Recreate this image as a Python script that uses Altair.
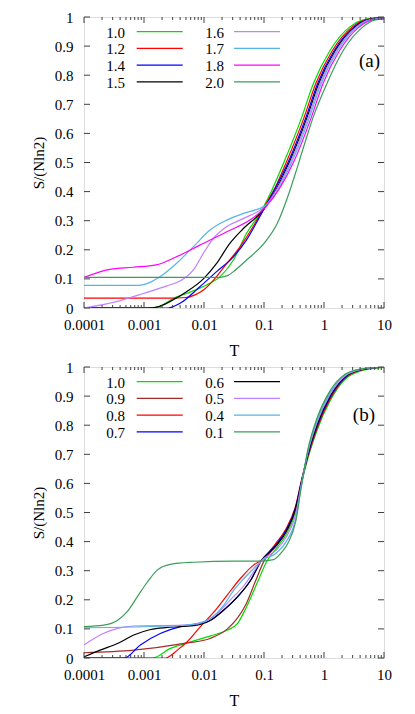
import altair as alt
import pandas as pd

# ---------------- data: panel (a) ----------------
a_labels = ["1.0", "1.2", "1.4", "1.5", "1.6", "1.7", "1.8", "2.0"]
a_colors = ["#00dd00", "#ff0000", "#0000ff", "#000000", "#c080ff", "#56b4e9", "#ff00ff", "#3a9e5a"]

a_logT = {
    "1.0": [-4, -3, -2.8, -2.65, -2.51, -2.29, -1.96, -1.73, -1.51, -1.29, -1.07, -0.95, -0.67, -0.37, -0.18, 0.1, 0.43, 0.65, 1.0],
    "1.2": [-4, -2.6, -2.3, -2.15, -2.01, -1.84, -1.62, -1.4, -1.18, -0.99, -0.8, -0.63, -0.33, -0.14, 0.14, 0.47, 0.69, 1.0],
    "1.4": [-4, -2.6, -2.4, -2.07, -1.79, -1.51, -1.29, -1.07, -0.96, -0.6, -0.3, -0.11, 0.17, 0.5, 0.72, 1.0],
    "1.5": [-4, -2.9, -2.75, -2.57, -2.29, -2.01, -1.79, -1.57, -1.34, -1.0, -0.58, -0.28, -0.09, 0.19, 0.52, 0.74, 1.0],
    "1.6": [-4, -3.46, -3.01, -2.62, -2.37, -2.18, -2.01, -1.84, -1.62, -1.34, -0.96, -0.56, -0.26, -0.07, 0.21, 0.54, 0.76, 1.0],
    "1.7": [-4, -3.1, -2.9, -2.73, -2.46, -2.18, -1.9, -1.62, -1.34, -0.96, -0.54, -0.24, -0.05, 0.23, 0.56, 0.78, 1.0],
    "1.8": [-4, -3.57, -3.18, -2.8, -2.46, -2.07, -1.62, -1.18, -0.96, -0.51, -0.21, -0.02, 0.26, 0.59, 0.81, 1.0],
    "2.0": [-4, -1.75, -1.6, -1.51, -1.29, -1.0, -0.78, -0.6, -0.45, -0.3, -0.18, 0.045, 0.32, 0.65, 0.85, 1.0],
}
a_S = {
    "1.0": [0, 0, 0.002, 0.015, 0.033, 0.05, 0.079, 0.108, 0.165, 0.257, 0.325, 0.37, 0.5, 0.656, 0.77, 0.885, 0.966, 0.99, 1.0],
    "1.2": [0.034, 0.034, 0.036, 0.045, 0.062, 0.096, 0.153, 0.21, 0.28, 0.35, 0.42, 0.5, 0.656, 0.77, 0.885, 0.966, 0.99, 0.999],
    "1.4": [0, 0, 0.016, 0.073, 0.125, 0.176, 0.234, 0.314, 0.355, 0.5, 0.656, 0.77, 0.885, 0.966, 0.99, 0.998],
    "1.5": [0, 0, 0.005, 0.022, 0.056, 0.1, 0.153, 0.222, 0.274, 0.34, 0.5, 0.656, 0.77, 0.885, 0.966, 0.99, 0.997],
    "1.6": [0, 0.022, 0.05, 0.076, 0.096, 0.13, 0.188, 0.24, 0.28, 0.308, 0.355, 0.5, 0.656, 0.77, 0.885, 0.966, 0.99, 0.996],
    "1.7": [0.078, 0.078, 0.088, 0.108, 0.153, 0.21, 0.268, 0.302, 0.325, 0.355, 0.5, 0.656, 0.77, 0.885, 0.966, 0.99, 0.995],
    "1.8": [0.105, 0.133, 0.14, 0.148, 0.176, 0.216, 0.262, 0.31, 0.35, 0.5, 0.656, 0.77, 0.885, 0.966, 0.99, 0.994],
    "2.0": [0.105, 0.105, 0.112, 0.125, 0.165, 0.222, 0.29, 0.385, 0.48, 0.58, 0.656, 0.77, 0.885, 0.966, 0.99, 0.993],
}

# ---------------- data: panel (b) ----------------
b_labels = ["1.0", "0.9", "0.8", "0.7", "0.6", "0.5", "0.4", "0.1"]
b_colors = ["#00dd00", "#a52a2a", "#ff0000", "#0000ff", "#000000", "#c080ff", "#56b4e9", "#3a9e5a"]

b_up = [-0.8, -0.63, -0.47, -0.38, -0.27, -0.12, 0.1, 0.35, 0.6, 1.0]
b_logT = {
    "1.0": [-4, -2.86, -2.56, -2.22, -1.89, -1.61, -1.44, -1.29, -1.07, -0.96] + b_up,
    "0.9": [-4, -3.17, -2.33, -1.89, -1.61, -1.45, -1.3, -1.15, -1.0] + b_up,
    "0.8": [-4, -2.64, -2.44, -2.28, -2.06, -1.83, -1.61, -1.39, -1.17, -1.05] + b_up,
    "0.7": [-4, -3.33, -3.06, -2.72, -2.39, -2.11, -1.89, -1.67, -1.44, -1.22, -1.05] + b_up,
    "0.6": [-4, -3.72, -3.44, -3.17, -2.89, -2.61, -2.17, -1.89, -1.67, -1.44, -1.22, -1.05] + b_up,
    "0.5": [-4, -3.67, -3.44, -3.17, -2.33, -2.0, -1.78, -1.56, -1.33, -1.17, -1.05] + b_up,
    "0.4": [-4, -2.61, -2.17, -1.89, -1.67, -1.5, -1.33, -1.17, -1.05] + b_up,
    "0.1": [-4, -3.67, -3.44, -3.28, -3.11, -2.94, -2.78, -2.56, -2.17, -1.5, -1.05, -0.84, -0.72, -0.6,
            -0.47, -0.38, -0.27, -0.12, 0.1, 0.35, 0.6, 1.0],
}
b_S = {
    "1.0": [0, 0, 0.033, 0.056, 0.076, 0.096, 0.119, 0.176, 0.279, 0.33,
            0.375, 0.425, 0.505, 0.595, 0.685, 0.78, 0.883, 0.958, 0.986, 0.999],
    "0.9": [0.018, 0.027, 0.05, 0.068, 0.1, 0.135, 0.185, 0.26, 0.333,
            0.385, 0.435, 0.515, 0.6, 0.69, 0.787, 0.889, 0.961, 0.988, 1.0],
    "0.8": [0, 0, 0.028, 0.056, 0.108, 0.159, 0.217, 0.274, 0.32, 0.335,
            0.395, 0.445, 0.525, 0.607, 0.695, 0.79, 0.892, 0.963, 0.989, 1.0],
    "0.7": [0, 0, 0.045, 0.085, 0.108, 0.117, 0.13, 0.165, 0.21, 0.268, 0.333,
            0.39, 0.44, 0.52, 0.603, 0.697, 0.795, 0.896, 0.965, 0.99, 1.0],
    "0.6": [0.004, 0.028, 0.05, 0.079, 0.098, 0.105, 0.111, 0.13, 0.165, 0.211, 0.268, 0.333,
            0.385, 0.435, 0.515, 0.6, 0.7, 0.8, 0.9, 0.966, 0.99, 1.0],
    "0.5": [0.045, 0.085, 0.102, 0.11, 0.113, 0.125, 0.153, 0.2, 0.25, 0.297, 0.333,
            0.37, 0.415, 0.495, 0.595, 0.705, 0.808, 0.906, 0.969, 0.991, 1.0],
    "0.4": [0.104, 0.11, 0.116, 0.136, 0.182, 0.234, 0.274, 0.308, 0.333,
            0.36, 0.4, 0.48, 0.59, 0.71, 0.815, 0.912, 0.972, 0.992, 1.0],
    "0.1": [0.108, 0.113, 0.13, 0.159, 0.211, 0.262, 0.302, 0.322, 0.329, 0.333, 0.333, 0.338, 0.36, 0.395,
            0.47, 0.585, 0.715, 0.822, 0.918, 0.975, 0.993, 1.0],
}

# ---------------- ticks ----------------
x_major = [0.0001, 0.001, 0.01, 0.1, 1, 10]
x_minor = [m * d for d in [0.0001, 0.001, 0.01, 0.1, 1] for m in range(2, 10)]
y_major = [0, 0.1, 0.2, 0.3, 0.4, 0.5, 0.6, 0.7, 0.8, 0.9, 1]

W, H = 300, 291
FONT = "Liberation Serif, Times New Roman, Times, DejaVu Serif, serif"
FS = 15
FRAME = "#404040"

xscale = alt.Scale(type="log", domain=[0.0001, 10], nice=False)
yscale = alt.Scale(domain=[0, 1], nice=False, zero=False)

xaxis = alt.Axis(values=x_major, format="~g", ticks=False, domain=False, grid=False,
                 labelFont=FONT, labelFontSize=FS, labelPadding=9, labelColor="black",
                 title="T", titleFont=FONT, titleFontSize=16, titleFontWeight="normal",
                 titleColor="black", titlePadding=10, labelFlush=False)
yaxis = alt.Axis(values=y_major, format="~g", ticks=False, domain=False, grid=False,
                 labelFont=FONT, labelFontSize=FS, labelPadding=11, labelColor="black",
                 title="S/(Nln2)", titleFont=FONT, titleFontSize=15, titleFontWeight="normal",
                 titleColor="black", titleX=-46, titleY=H / 2, titleAngle=270,
                 titleAlign="center", titleBaseline="middle", labelFlush=False)


def panel(labels, colors, logT, S, tag, tag_dx, tag_dy):
    rows = []
    for k, lab in enumerate(labels):
        for lt, s in zip(logT[lab], S[lab]):
            rows.append({"series": lab, "order": k, "T": 10 ** lt, "S": s})
    df = pd.DataFrame(rows)
    color = alt.Color("series:N", scale=alt.Scale(domain=labels, range=colors), legend=None)

    lines = alt.Chart(df).mark_line(interpolate="monotone", strokeWidth=1.2, clip=True).encode(
        x=alt.X("T:Q", scale=xscale, axis=xaxis),
        y=alt.Y("S:Q", scale=yscale, axis=yaxis),
        color=color,
        detail="series:N",
        order="T:Q",
    )

    layers = [lines]
    # inward ticks on all four sides
    xmaj = pd.DataFrame({"T": x_major})
    xmin = pd.DataFrame({"T": x_minor})
    ymaj = pd.DataFrame({"S": y_major})
    for d, ln in [(xmaj, 6), (xmin, 3)]:
        layers.append(alt.Chart(d).mark_rule(color=FRAME, strokeWidth=1).encode(
            x=alt.X("T:Q", scale=xscale, axis=xaxis), y=alt.value(H), y2=alt.value(H - ln)))
        layers.append(alt.Chart(d).mark_rule(color=FRAME, strokeWidth=1).encode(
            x=alt.X("T:Q", scale=xscale, axis=xaxis), y=alt.value(0), y2=alt.value(ln)))
    layers.append(alt.Chart(ymaj).mark_rule(color=FRAME, strokeWidth=1).encode(
        y=alt.Y("S:Q", scale=yscale, axis=yaxis), x=alt.value(0), x2=alt.value(6)))
    layers.append(alt.Chart(ymaj).mark_rule(color=FRAME, strokeWidth=1).encode(
        y=alt.Y("S:Q", scale=yscale, axis=yaxis), x=alt.value(W), x2=alt.value(W - 6)))

    # legend (gnuplot style: label then line sample), two columns of four
    dummy = pd.DataFrame({"k": [0]})
    for k, (lab, col) in enumerate(zip(labels, colors)):
        c, r = divmod(k, 4)
        ty = 14.7 + 16.7 * r
        tx = 41 + 99 * c
        lx1 = 52.7 + 97.3 * c
        layers.append(alt.Chart(dummy).mark_text(align="right", baseline="middle", font=FONT,
                                                 fontSize=FS, color="black").encode(
            x=alt.value(tx), y=alt.value(ty + 1), text=alt.value(lab)))
        layers.append(alt.Chart(dummy).mark_rule(color=col, strokeWidth=1.3).encode(
            x=alt.value(lx1), x2=alt.value(lx1 + 46), y=alt.value(ty)))
    layers.append(alt.Chart(dummy).mark_text(align="right", baseline="middle", font=FONT,
                                             fontSize=19, color="black").encode(
        x=alt.value(W - tag_dx), y=alt.value(tag_dy), text=alt.value(tag)))

    return alt.layer(*layers).properties(width=W, height=H)


pa = panel(a_labels, a_colors, a_logT, a_S, "(a)", 4, 44)
pb = panel(b_labels, b_colors, b_logT, b_S, "(b)", 9, 48)

chart = alt.vconcat(pa, pb, spacing=59, bounds="flush").resolve_scale(
    color="independent"
).properties(
    padding={"left": 22, "top": 1, "right": 5, "bottom": 5}
).configure_view(stroke=FRAME, strokeWidth=1).configure(background="white")

chart.save("out.html", embed_options={"renderer": "svg", "actions": False})
